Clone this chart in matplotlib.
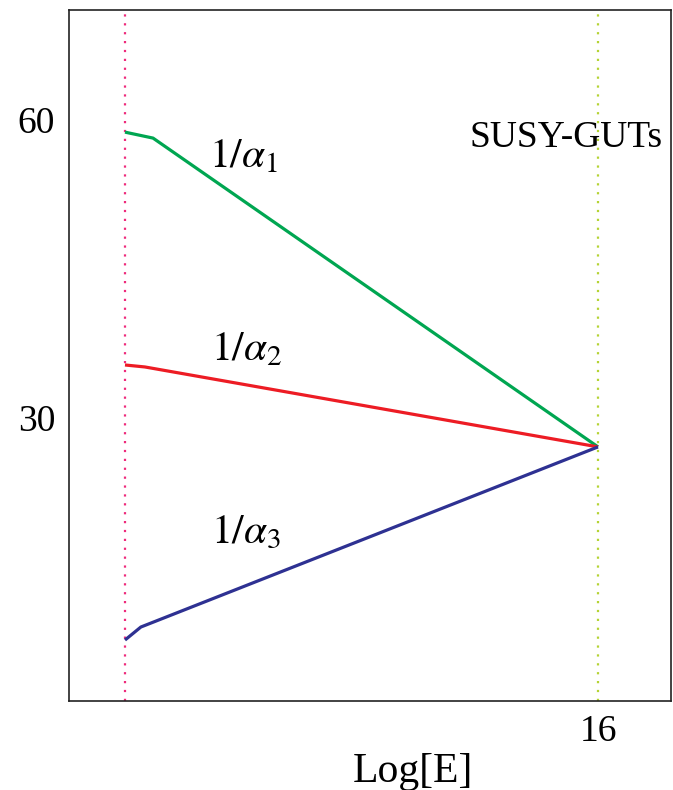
import matplotlib
matplotlib.use("Agg")
import matplotlib.pyplot as plt

plt.rcParams['font.family'] = ['Liberation Serif', 'DejaVu Serif']
plt.rcParams['mathtext.fontset'] = 'stix'

# Data
x_low = 2.0      # log10(M_Z)
x_gut = 16.0
alpha1_x = [2.0, 2.83, 16.0]
alpha1_y = [58.8, 58.2, 27.1]
alpha2_x = [2.0, 2.59, 16.0]
alpha2_y = [35.35, 35.15, 27.1]
alpha3_x = [2.0, 2.47, 16.0]
alpha3_y = [7.65, 8.96, 27.1]
y_ticks = [30, 60]
x_ticks = [16]

fig = plt.figure(figsize=(6.73, 7.90), dpi=100)
ax = fig.add_axes([69/673, 1-700.7/790, (671-69)/673, (700.7-10)/790])

ax.axvline(x_low, color='#ee2a7b', lw=1.6, ls=(0, (1, 3)))
ax.axvline(x_gut, color='#b5d334', lw=1.6, ls=(0, (1, 3)))

ax.plot(alpha1_x, alpha1_y, color='#00a651', lw=2.3, solid_capstyle='butt')
ax.plot(alpha2_x, alpha2_y, color='#ed1c24', lw=2.3, solid_capstyle='butt')
ax.plot(alpha3_x, alpha3_y, color='#2e3192', lw=2.3, solid_capstyle='butt')

ax.text(4.48, 55.3, r'$1/\alpha_1$', fontsize=30, va='baseline', ha='left')
ax.text(4.54, 35.85, r'$1/\alpha_2$', fontsize=30, va='baseline', ha='left')
ax.text(4.54, 17.4, r'$1/\alpha_3$', fontsize=30, va='baseline', ha='left')
ax.text(17.92, 57.3, 'SUSY-GUTs', fontsize=27, va='baseline', ha='right')

ax.set_xlim(0.343, 18.16)
ax.set_ylim(1.54, 71.1)
ax.set_xticks(x_ticks)
ax.set_yticks(y_ticks)
ax.tick_params(axis='both', length=0, labelsize=27)
ax.tick_params(axis='y', pad=10)
ax.tick_params(axis='x', pad=10)
for s in ax.spines.values():
    s.set_linewidth(1.2)
    s.set_color('#222222')

fig.text(413/673, 1-782/790, 'Log[E]', fontsize=30, ha='center', va='baseline')

fig.savefig('out.png', dpi=100)
